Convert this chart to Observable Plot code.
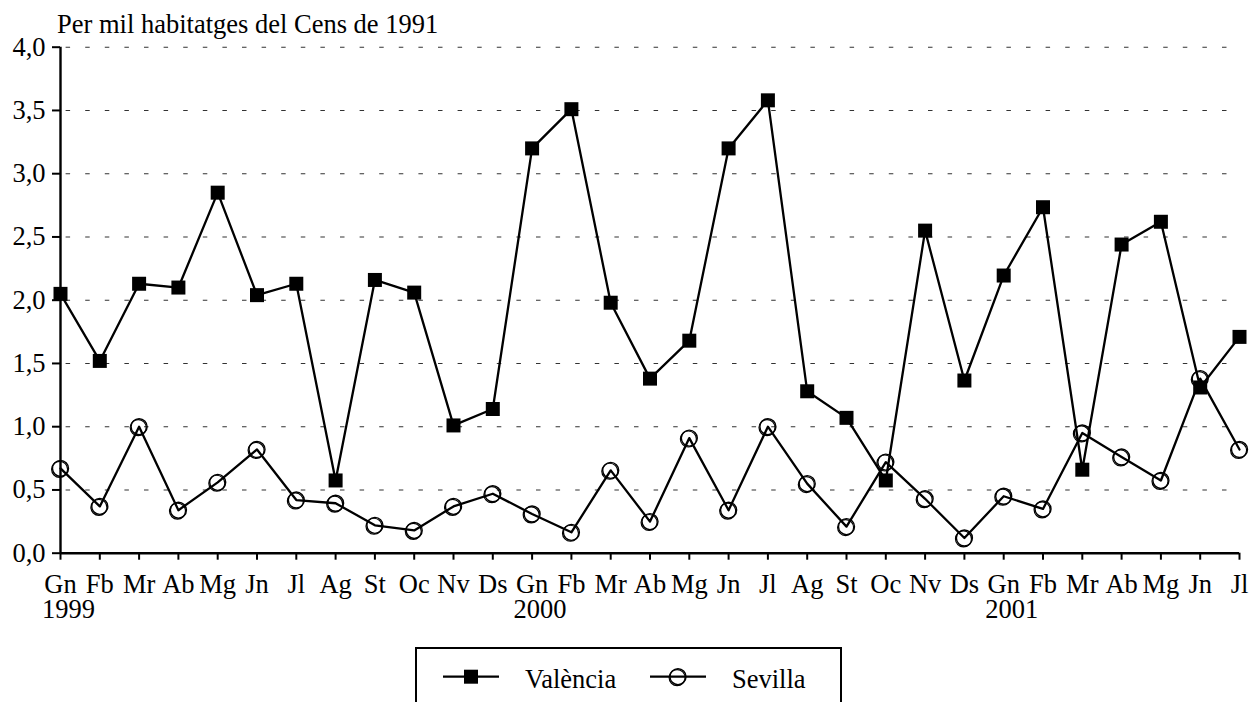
<!DOCTYPE html>
<html><head><meta charset="utf-8">
<script src="https://cdn.jsdelivr.net/npm/d3@7"></script>
<script src="https://cdn.jsdelivr.net/npm/@observablehq/plot@0.6"></script>
<style>
html,body{margin:0;padding:0;background:#fff;overflow:hidden;}
body{width:1250px;height:702px;font-family:"Liberation Serif",Tinos,"Times New Roman","DejaVu Serif",serif;color:#000;}
#title{position:relative;height:34px;}
#title span{position:absolute;left:57px;top:10.5px;font-size:26.5px;line-height:26.5px;white-space:nowrap;}
#chart svg{display:block;overflow:visible;}
#chart svg text{font-family:"Liberation Serif",Tinos,"Times New Roman","DejaVu Serif",serif;}
#legend{position:relative;height:62px;}
#legend svg{position:absolute;left:0;top:0;overflow:visible;}
#legend svg text{font-family:"Liberation Serif",Tinos,"Times New Roman","DejaVu Serif",serif;}
</style>
</head><body>
<div id="title"><span>Per mil habitatges del Cens de 1991</span></div>
<div id="chart"></div>
<div id="legend"></div>
<script>
// ---- data ----
const periodLabels = ["Gn","Fb","Mr","Ab","Mg","Jn","Jl","Ag","St","Oc","Nv","Ds",
                      "Gn","Fb","Mr","Ab","Mg","Jn","Jl","Ag","St","Oc","Nv","Ds",
                      "Gn","Fb","Mr","Ab","Mg","Jn","Jl"];
const yearLabels = ["1999","2000","2001"];
const yearStartIndex = [0, 12, 24];
const valencia = [2.05,1.52,2.13,2.10,2.85,2.04,2.13,0.575,2.16,2.06,1.01,1.14,
                  3.20,3.51,1.98,1.38,1.68,3.20,3.58,1.28,1.07,0.575,2.55,1.365,
                  2.195,2.735,0.66,2.44,2.62,1.31,1.71];
const sevilla  = [0.67,0.37,1.00,0.34,0.56,0.82,0.42,0.395,0.22,0.18,0.37,0.47,
                  0.31,0.165,0.655,0.25,0.91,0.34,1.00,0.55,0.21,0.72,0.43,0.12,
                  0.45,0.35,0.95,0.76,0.575,1.38,0.82];
const yTicks = [0,0.5,1,1.5,2,2.5,3,3.5,4];
const seriesNames = ["València","Sevilla"];

// ---- tables ----
const rows = periodLabels.map((m, i) => ({i, month: m, valencia: valencia[i], sevilla: sevilla[i]}));
const yearRows = yearLabels.map((y, k) => ({i: yearStartIndex[k], year: y}));

const FONT = '"Liberation Serif",Tinos,"Times New Roman","DejaVu Serif",serif';
const FS = 26.5;
const chart = Plot.plot({
  width: 1250, height: 606,
  marginTop: 12.7, marginBottom: 87.3, marginLeft: 60, marginRight: 11,
  style: {fontFamily: FONT, fontSize: FS + "px", color: "#000", background: "transparent", overflow: "visible"},
  x: {type: "linear", domain: [0, periodLabels.length - 1]},
  y: {domain: [0, 4]},
  marks: [
    Plot.gridY({ticks: yTicks.filter(t => t > 0), stroke: "#333", strokeOpacity: 1, strokeWidth: 1.1, strokeDasharray: "4.5,15.1", strokeDashoffset: 14}),
    Plot.axisY({ticks: yTicks, tickSize: 8, tickPadding: 7, tickFormat: d => d.toFixed(1).replace(".", ","), label: null, strokeWidth: 2, fontSize: FS}),
    Plot.axisX({ticks: d3.range(periodLabels.length), tickSize: 7, tickPadding: 14, tickFormat: i => periodLabels[i], label: null, strokeWidth: 2, fontSize: FS}),
    Plot.ruleY([0], {stroke: "#000", strokeWidth: 2.6}),
    Plot.ruleX([0], {stroke: "#000", strokeWidth: 2.4}),
    Plot.text(yearRows, {x: "i", text: "year", frameAnchor: "bottom", dy: 65, dx: 8, fontSize: FS}),
    Plot.line(rows, {x: "i", y: "sevilla", stroke: "#000", strokeWidth: 2.3}),
    Plot.dot(rows, {x: "i", y: "sevilla", r: 8, fill: "none", stroke: "#000", strokeWidth: 1.4}),
    Plot.dot(rows, {x: "i", y: "sevilla", r: 8, fill: "none", stroke: "#000", strokeWidth: 1.2, dx: -0.9, dy: 0.9}),
    Plot.line(rows, {x: "i", y: "valencia", stroke: "#000", strokeWidth: 2.3}),
    Plot.dot(rows, {x: "i", y: "valencia", symbol: "square", r: 7.9, fill: "#000", stroke: "none"})
  ]
});
document.getElementById("chart").appendChild(chart);

// ---- legend ----
const NS = "http://www.w3.org/2000/svg";
const lg = document.createElementNS(NS, "svg");
lg.setAttribute("width", 1250); lg.setAttribute("height", 62);
function el(tag, attrs, text) {
  const e = document.createElementNS(NS, tag);
  for (const k in attrs) e.setAttribute(k, attrs[k]);
  if (text) e.textContent = text;
  lg.appendChild(e); return e;
}
el("rect", {x: 416, y: 8, width: 425, height: 90, fill: "none", stroke: "#000", "stroke-width": 2});
const cy = 36.7;
el("line", {x1: 443, x2: 499, y1: cy, y2: cy, stroke: "#000", "stroke-width": 2.3});
el("rect", {x: 464, y: cy - 7, width: 14, height: 14, fill: "#000"});
el("text", {x: 525, y: 48, "font-size": FS}, seriesNames[0]);
el("line", {x1: 650, x2: 706, y1: cy, y2: cy, stroke: "#000", "stroke-width": 2.3});
el("circle", {cx: 678, cy: cy, r: 8, fill: "none", stroke: "#000", "stroke-width": 1.4});
el("circle", {cx: 677.1, cy: cy + 0.9, r: 8, fill: "none", stroke: "#000", "stroke-width": 1.2});
el("text", {x: 732, y: 48, "font-size": FS}, seriesNames[1]);
document.getElementById("legend").appendChild(lg);
</script>
</body></html>
